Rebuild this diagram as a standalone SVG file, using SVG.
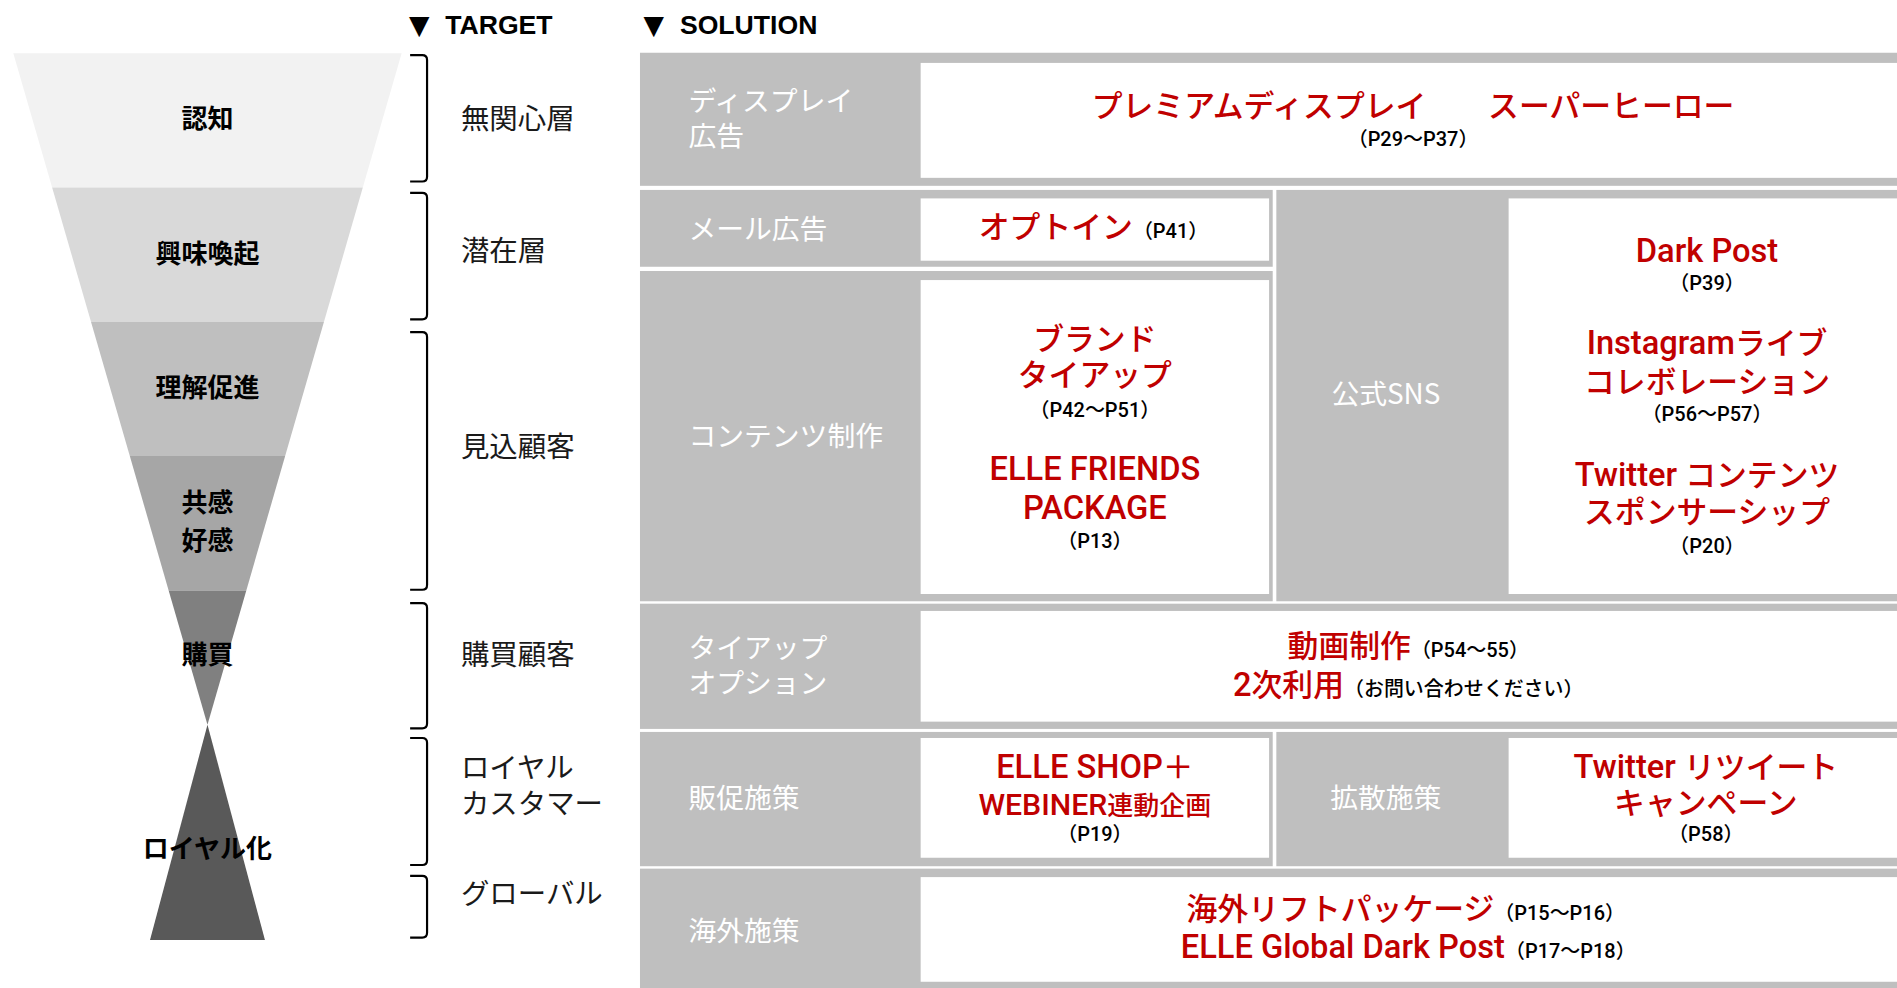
<svg xmlns="http://www.w3.org/2000/svg" width="1897" height="988" viewBox="0 0 1897 988">
<style>
.fn{font-family:"Noto Sans CJK JP",sans-serif;font-weight:700;font-size:21.5px;fill:#000;text-anchor:middle}
.tg{font-family:"Noto Sans CJK JP",sans-serif;font-size:23.5px;fill:#1a1a1a}
.lb{font-family:"Noto Sans CJK JP",sans-serif;font-size:23px;fill:#fff}
.rd{font-family:Roboto,"Noto Sans CJK JP",sans-serif;font-weight:500;font-size:25.5px;fill:#c00000;text-anchor:middle}
.st{text-anchor:start}
.la{font-size:27px}
.pg{font-family:Roboto,"Noto Sans CJK JP",sans-serif;font-weight:500;font-size:16.5px;fill:#000}
.mid{text-anchor:middle}
.hd{font-family:"Liberation Sans","DejaVu Sans",sans-serif;font-weight:700;font-size:22px;fill:#000}
.tri{font-family:"DejaVu Sans",sans-serif;font-size:22px;fill:#000}
.gr{fill:#bfbfbf}
.wh{fill:#fff}
.br{fill:none;stroke:#000;stroke-width:1.8}
</style>
<rect width="1897" height="988" fill="#fff"/>
<g transform="scale(1.2098)">
  <g id="headers">
    <text class="tri" x="338" y="28">▼</text>
    <text class="hd" x="368" y="28">TARGET</text>
    <text class="tri" x="532" y="28">▼</text>
    <text class="hd" x="562" y="28">SOLUTION</text>
  </g>
  <g id="funnel">
    <g id="f-ninchi"><polygon points="11,44 332,44 299.9,155 43.1,155" fill="#f2f2f2"/><text class="fn" x="171.5" y="106">認知</text></g>
    <g id="f-kyomi"><polygon points="43.1,155 299.9,155 267.8,266 75.2,266" fill="#d9d9d9"/><text class="fn" x="171.5" y="217">興味喚起</text></g>
    <g id="f-rikai"><polygon points="75.2,266 267.8,266 235.7,377 107.3,377" fill="#bfbfbf"/><text class="fn" x="171.5" y="328">理解促進</text></g>
    <g id="f-kyokan"><polygon points="107.3,377 235.7,377 203.6,488 139.4,488" fill="#a6a6a6"/><text class="fn" x="171.5" y="423">共感</text><text class="fn" x="171.5" y="454.5">好感</text></g>
    <g id="f-kobai"><polygon points="139.4,488 203.6,488 171.5,599" fill="#808080"/><text class="fn" x="171.5" y="549">購買</text></g>
    <g id="f-royal"><polygon points="171.5,599 219,777 124,777" fill="#595959"/><text class="fn" x="171.5" y="709">ロイヤル化</text></g>
  </g>
  <g id="brackets">
    <path class="br" d="M339,45.5 H349 Q353,45.5 353,49.5 V146 Q353,150 349,150 H339"/>
    <path class="br" d="M339,159.5 H349 Q353,159.5 353,163.5 V260 Q353,264 349,264 H339"/>
    <path class="br" d="M339,274.5 H349 Q353,274.5 353,278.5 V483.5 Q353,487.5 349,487.5 H339"/>
    <path class="br" d="M339,498.5 H349 Q353,498.5 353,502.5 V598 Q353,602 349,602 H339"/>
    <path class="br" d="M339,610 H349 Q353,610 353,614 V711 Q353,715 349,715 H339"/>
    <path class="br" d="M339,724 H349 Q353,724 353,728 V771 Q353,775 349,775 H339"/>
  </g>
  <g id="targets">
    <text class="tg" x="381" y="107">無関心層</text>
    <text class="tg" x="381" y="216">潜在層</text>
    <text class="tg" x="381" y="378">見込顧客</text>
    <text class="tg" x="381" y="549.5">購買顧客</text>
    <text class="tg" x="381" y="643">ロイヤル</text>
    <text class="tg" x="381" y="672.5">カスタマー</text>
    <text class="tg" x="381" y="747">グローバル</text>
  </g>
  <g id="row-display">
    <rect class="gr" x="529" y="43.6" width="1080" height="110"/>
    <rect class="wh" x="761" y="52" width="850" height="95"/>
    <text class="lb" x="569" y="91.7">ディスプレイ</text>
    <text class="lb" x="569" y="121">広告</text>
    <text class="rd" x="1168" y="97">プレミアムディスプレイ　　スーパーヒーロー</text>
    <text class="pg mid" x="1168" y="121">（P29～P37）</text>
  </g>
  <g id="row-mail">
    <rect class="gr" x="529" y="157" width="523" height="63.5"/>
    <rect class="wh" x="761" y="164" width="288" height="51.5"/>
    <text class="lb" x="569" y="197.5">メール広告</text>
    <text class="rd st" x="809" y="197">オプトイン<tspan class="pg">（P41）</tspan></text>
  </g>
  <g id="row-content">
    <rect class="gr" x="529" y="224" width="523" height="273"/>
    <rect class="wh" x="761" y="231.5" width="288" height="259.5"/>
    <text class="lb" x="569" y="369">コンテンツ制作</text>
    <text class="rd" x="905" y="289">ブランド</text>
    <text class="rd" x="905" y="319">タイアップ</text>
    <text class="pg mid" x="905" y="345">（P42～P51）</text>
    <text class="rd la" x="905" y="397">ELLE FRIENDS</text>
    <text class="rd la" x="905" y="429">PACKAGE</text>
    <text class="pg mid" x="905" y="453">（P13）</text>
  </g>
  <g id="row-sns">
    <rect class="gr" x="1055" y="157" width="560" height="340"/>
    <rect class="wh" x="1247" y="164" width="360" height="327"/>
    <text class="lb mid" x="1145.5" y="334">公式SNS</text>
    <text class="rd la" x="1411" y="216.5">Dark Post</text>
    <text class="pg mid" x="1411" y="240">（P39）</text>
    <text class="rd" x="1411" y="293"><tspan class="la">Instagram</tspan>ライブ</text>
    <text class="rd" x="1411" y="325">コレボレーション</text>
    <text class="pg mid" x="1411" y="348">（P56～P57）</text>
    <text class="rd" x="1411" y="402"><tspan class="la">Twitter </tspan>コンテンツ</text>
    <text class="rd" x="1411" y="432.5">スポンサーシップ</text>
    <text class="pg mid" x="1411" y="457">（P20）</text>
  </g>
  <g id="row-tieup">
    <rect class="gr" x="529" y="499" width="1080" height="103.5"/>
    <rect class="wh" x="761" y="505" width="850" height="91.5"/>
    <text class="lb" x="569" y="544">タイアップ</text>
    <text class="lb" x="569" y="573">オプション</text>
    <text class="rd" x="1164" y="543">動画制作<tspan class="pg">（P54～55）</tspan></text>
    <text class="rd" x="1164" y="575.5"><tspan class="la">2</tspan>次利用<tspan class="pg">（お問い合わせください）</tspan></text>
  </g>
  <g id="row-promo">
    <rect class="gr" x="529" y="605" width="523" height="111"/>
    <rect class="wh" x="761" y="610" width="288" height="99"/>
    <text class="lb" x="569" y="668">販促施策</text>
    <text class="rd" x="905" y="643"><tspan class="la">ELLE SHOP</tspan>＋</text>
    <text class="rd" x="905" y="673.5" style="font-size:21.5px"><tspan style="font-size:25px">WEBINER</tspan>連動企画</text>
    <text class="pg mid" x="905" y="695">（P19）</text>
  </g>
  <g id="row-spread">
    <rect class="gr" x="1055" y="605" width="560" height="111"/>
    <rect class="wh" x="1247" y="610" width="360" height="99"/>
    <text class="lb mid" x="1145.5" y="668">拡散施策</text>
    <text class="rd" x="1410" y="643"><tspan class="la">Twitter </tspan>リツイート</text>
    <text class="rd" x="1410" y="673">キャンペーン</text>
    <text class="pg mid" x="1410" y="695">（P58）</text>
  </g>
  <g id="row-overseas">
    <rect class="gr" x="529" y="718" width="1080" height="110"/>
    <rect class="wh" x="761" y="725" width="850" height="86.5"/>
    <text class="lb" x="569" y="778">海外施策</text>
    <text class="rd" x="1162" y="760.5">海外リフトパッケージ<tspan class="pg">（P15～P16）</tspan></text>
    <text class="rd" x="1164" y="792"><tspan class="la">ELLE Global Dark Post</tspan><tspan class="pg">（P17～P18）</tspan></text>
  </g>
  <g id="connectors"></g>
</g>
</svg>
